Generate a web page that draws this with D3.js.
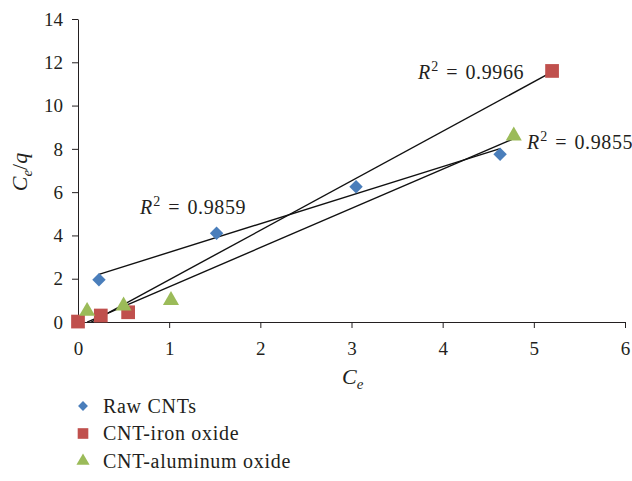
<!DOCTYPE html>
<html><head><meta charset="utf-8">
<script src="https://cdn.jsdelivr.net/npm/d3@7"></script>
<style>body{margin:0;background:#fff}svg{display:block}text{font-family:"Liberation Serif","DejaVu Serif",serif;fill:#231f20}</style>
</head><body><svg id="c" width="632" height="481"></svg>
<script>
const seriesNames = ["Raw CNTs", "CNT-iron oxide", "CNT-aluminum oxide"];
const seriesColors = ["#4a7ebb", "#c0504d", "#9bbb59"];
const rawX = [0.23, 1.52, 3.05, 4.63];
const rawY = [1.95, 4.1, 6.25, 7.75];
const ironX = [0, 0.25, 0.55, 5.2];
const ironY = [0.02, 0.3, 0.45, 11.6];
const aluX = [0.1, 0.5, 1.02, 4.78];
const aluY = [0.5, 0.75, 1.0, 8.6];
const r2Labels = ["0.9859", "0.9966", "0.9855"];
const xTicks = [0, 1, 2, 3, 4, 5, 6];
const yTicks = [0, 2, 4, 6, 8, 10, 12, 14];

const svg = d3.select("#c");
const x = d3.scaleLinear().domain([0, 6]).range([78, 625]);
const y = d3.scaleLinear().domain([0, 14]).range([322, 19]);

const series = [
  {name: seriesNames[0], xs: rawX, ys: rawY, color: seriesColors[0], sym: d3.symbolDiamond2, size: 115, lsize: 62},
  {name: seriesNames[1], xs: ironX, ys: ironY, color: seriesColors[1], sym: d3.symbolSquare2, size: 240, lsize: 144},
  {name: seriesNames[2], xs: aluX, ys: aluY, color: seriesColors[2], sym: d3.symbolTriangle, size: 112, lsize: 75}
];

// axes
const xAxis = d3.axisBottom(x).tickValues(xTicks).tickSize(6).tickSizeOuter(0).tickFormat(d3.format("d"));
const gx = svg.append("g").attr("transform", "translate(0,322)").call(xAxis);
gx.select(".domain").attr("stroke", "#231f20");
gx.selectAll(".tick line").attr("stroke", "#231f20");
gx.selectAll(".tick text").attr("dy", 0).attr("y", 33).style("font-size", "19px");

const yAxis = d3.axisLeft(y).tickValues(yTicks).tickSize(6).tickSizeOuter(0);
const gy = svg.append("g").attr("transform", "translate(78,0)").call(yAxis);
gy.select(".domain").attr("stroke", "#231f20");
gy.selectAll(".tick line").attr("stroke", "#231f20");
gy.selectAll(".tick text").attr("x", -15).attr("dy", "0.33em").style("font-size", "19px");
gx.selectAll("text").attr("font-family", null);
gy.selectAll("text").attr("font-family", null);

// clip
svg.append("clipPath").attr("id", "plot").append("rect")
  .attr("x", x(0)).attr("y", y(14)).attr("width", x(6) - x(0)).attr("height", y(0) - y(14));

function fit(xs, ys) {
  const mx = d3.mean(xs), my = d3.mean(ys);
  let sxy = 0, sxx = 0;
  xs.forEach((v, i) => { sxy += (v - mx) * (ys[i] - my); sxx += (v - mx) * (v - mx); });
  const m = sxy / sxx;
  return {m, b: my - m * mx};
}

// trend lines
const gl = svg.append("g").attr("clip-path", "url(#plot)");
series.forEach(s => {
  const f = fit(s.xs, s.ys);
  const x0 = d3.min(s.xs), x1 = d3.max(s.xs);
  gl.append("line")
    .attr("x1", x(x0)).attr("y1", y(f.m * x0 + f.b))
    .attr("x2", x(x1)).attr("y2", y(f.m * x1 + f.b))
    .attr("stroke", "#111").attr("stroke-width", 1.4);
});

// markers
series.forEach(s => {
  svg.append("g").selectAll("path").data(s.xs.map((v, i) => [v, s.ys[i]])).join("path")
    .attr("d", d3.symbol(s.sym, s.size))
    .attr("transform", d => `translate(${x(d[0])},${y(d[1])})`)
    .attr("fill", s.color);
});

// R2 labels
function r2(xp, yp, val) {
  const t = svg.append("text").attr("x", xp).attr("y", yp).style("font-size", "20px");
  t.append("tspan").attr("font-style", "italic").text("R");
  t.append("tspan").attr("dy", -8).attr("dx", 1).style("font-size", "14px").text("2");
  t.append("tspan").attr("dy", 8).attr("dx", 8).text("=");
  t.append("tspan").attr("dx", 8).style("letter-spacing", "0.6px").text(val);
}
r2(140, 214, r2Labels[0]);
r2(418, 79, r2Labels[1]);
r2(527, 149, r2Labels[2]);

// axis titles
const yt = svg.append("text").attr("transform", "translate(27,172) rotate(-90)").attr("text-anchor", "middle").style("font-size", "22px");
yt.append("tspan").attr("font-style", "italic").text("C");
yt.append("tspan").attr("font-style", "italic").attr("dy", 5).style("font-size", "15px").text("e");
yt.append("tspan").attr("dy", -5).text("/");
yt.append("tspan").attr("font-style", "italic").text("q");

const xt = svg.append("text").attr("x", 342).attr("y", 384).style("font-size", "22px");
xt.append("tspan").attr("font-style", "italic").text("C");
xt.append("tspan").attr("font-style", "italic").attr("dy", 5).style("font-size", "15px").text("e");

// legend
const lg = svg.append("g");
series.forEach((s, i) => {
  const yy = 406 + i * 27.5;
  lg.append("path").attr("d", d3.symbol(s.sym, s.lsize)).attr("transform", `translate(83,${yy})`).attr("fill", s.color);
  lg.append("text").attr("x", 103).attr("y", yy).attr("dy", "0.33em").style("font-size", "20px").style("letter-spacing", "0.7px").text(s.name);
});
</script></body></html>
